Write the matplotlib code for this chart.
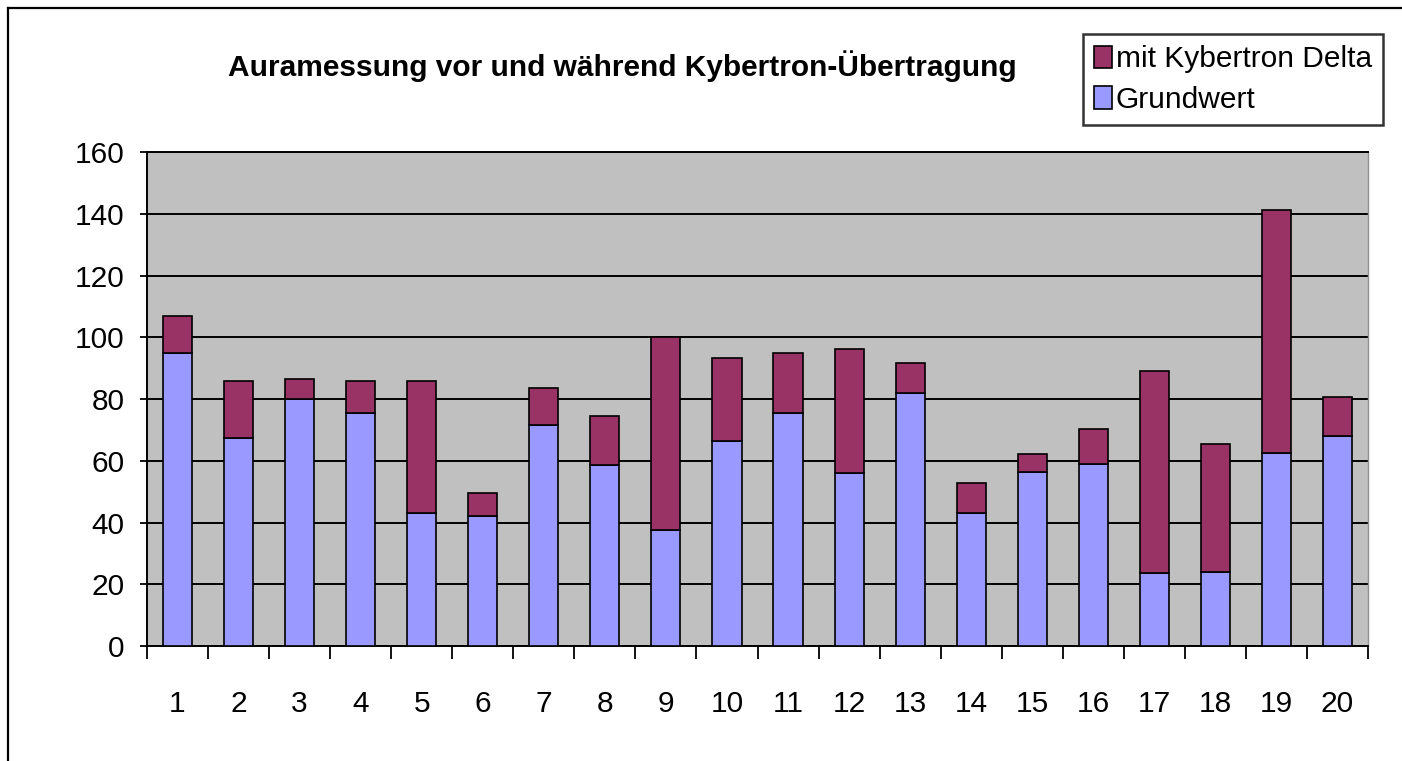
import matplotlib
matplotlib.use("Agg")
import matplotlib.pyplot as plt
from matplotlib.lines import Line2D
import numpy as np

categories = [str(i) for i in range(1, 21)]
grundwert = [95, 67.5, 80, 75.5, 43, 42, 71.5, 58.5, 37.5, 66.5,
             75.5, 56, 82, 43, 56.5, 59, 23.5, 24, 62.5, 68]
gesamt = [107, 86, 86.5, 86, 86, 49.5, 83.5, 74.5, 100, 93.2,
          94.8, 96.2, 91.6, 52.7, 62.2, 70.4, 89.2, 65.5, 141.2, 80.8]
delta = [g - b for g, b in zip(gesamt, grundwert)]
y_ticks = [0, 20, 40, 60, 80, 100, 120, 140, 160]

title = "Auramessung vor und während Kybertron-Übertragung"
label_delta = "mit Kybertron Delta"
label_grund = "Grundwert"

col_grund = "#9999FF"
col_delta = "#993366"

plt.rcParams['font.family'] = ['Liberation Sans', 'DejaVu Sans']
FS = 21.5

W, H = 1402, 761
fig = plt.figure(figsize=(W / 100, H / 100), dpi=100)
ax = fig.add_axes([147 / W, 1 - 646 / H, (1368 - 147) / W, (646 - 152.3) / H])
ax.set_facecolor("#C0C0C0")

x = np.arange(len(categories))
bw = 0.476
b1 = ax.bar(x, grundwert, width=bw, color=col_grund, edgecolor="black",
            linewidth=1.2, zorder=3, label=label_grund)
b2 = ax.bar(x, delta, width=bw, bottom=grundwert, color=col_delta,
            edgecolor="black", linewidth=1.2, zorder=3, label=label_delta)

ax.set_xlim(-0.5, len(categories) - 0.5)
ax.set_ylim(0, 160)
ax.set_yticks(y_ticks)
ax.set_yticklabels([str(v) for v in y_ticks], fontsize=FS)
ax.yaxis.grid(True, color="black", linewidth=1.4, zorder=1)
ax.set_axisbelow(True)

ax.set_xticks(x)
ax.set_xticklabels(categories, fontsize=FS)
ax.set_xticks(np.arange(-0.5, len(categories), 1.0), minor=True)
ax.tick_params(axis="x", which="major", length=0, pad=32)
ax.tick_params(axis="x", which="minor", length=9.5, width=1.3, direction="out", color="black")
ax.tick_params(axis="y", which="major", length=5, width=1.3, direction="out", pad=11)

for s in ["left", "bottom", "top"]:
    ax.spines[s].set_color("black")
    ax.spines[s].set_linewidth(1.4)
ax.spines["right"].set_color("#909090")
ax.spines["right"].set_linewidth(1.0)

fig.text(622 / W, 1 - 66 / H, title, fontsize=FS, fontweight="bold",
         ha="center", va="center")

leg = fig.legend([b2, b1], [label_delta, label_grund], loc="upper right",
                 bbox_to_anchor=(1383 / W, 1 - 34 / H), fontsize=FS,
                 handlelength=0.6, handleheight=0.8, handletextpad=0.12,
                 borderpad=0.38, labelspacing=0.42, borderaxespad=0,
                 frameon=True, fancybox=False, shadow=False)
leg.get_frame().set_edgecolor("black")
leg.get_frame().set_linewidth(1.8)

# outer chart border (left and top visible)
fig.add_artist(Line2D([8 / W, 8 / W], [0, 1 - 8 / H], color="black", linewidth=1.6,
                      transform=fig.transFigure))
fig.add_artist(Line2D([8 / W, 1], [1 - 8 / H, 1 - 8 / H], color="black", linewidth=1.6,
                      transform=fig.transFigure))

fig.savefig("out.png", dpi=100)
